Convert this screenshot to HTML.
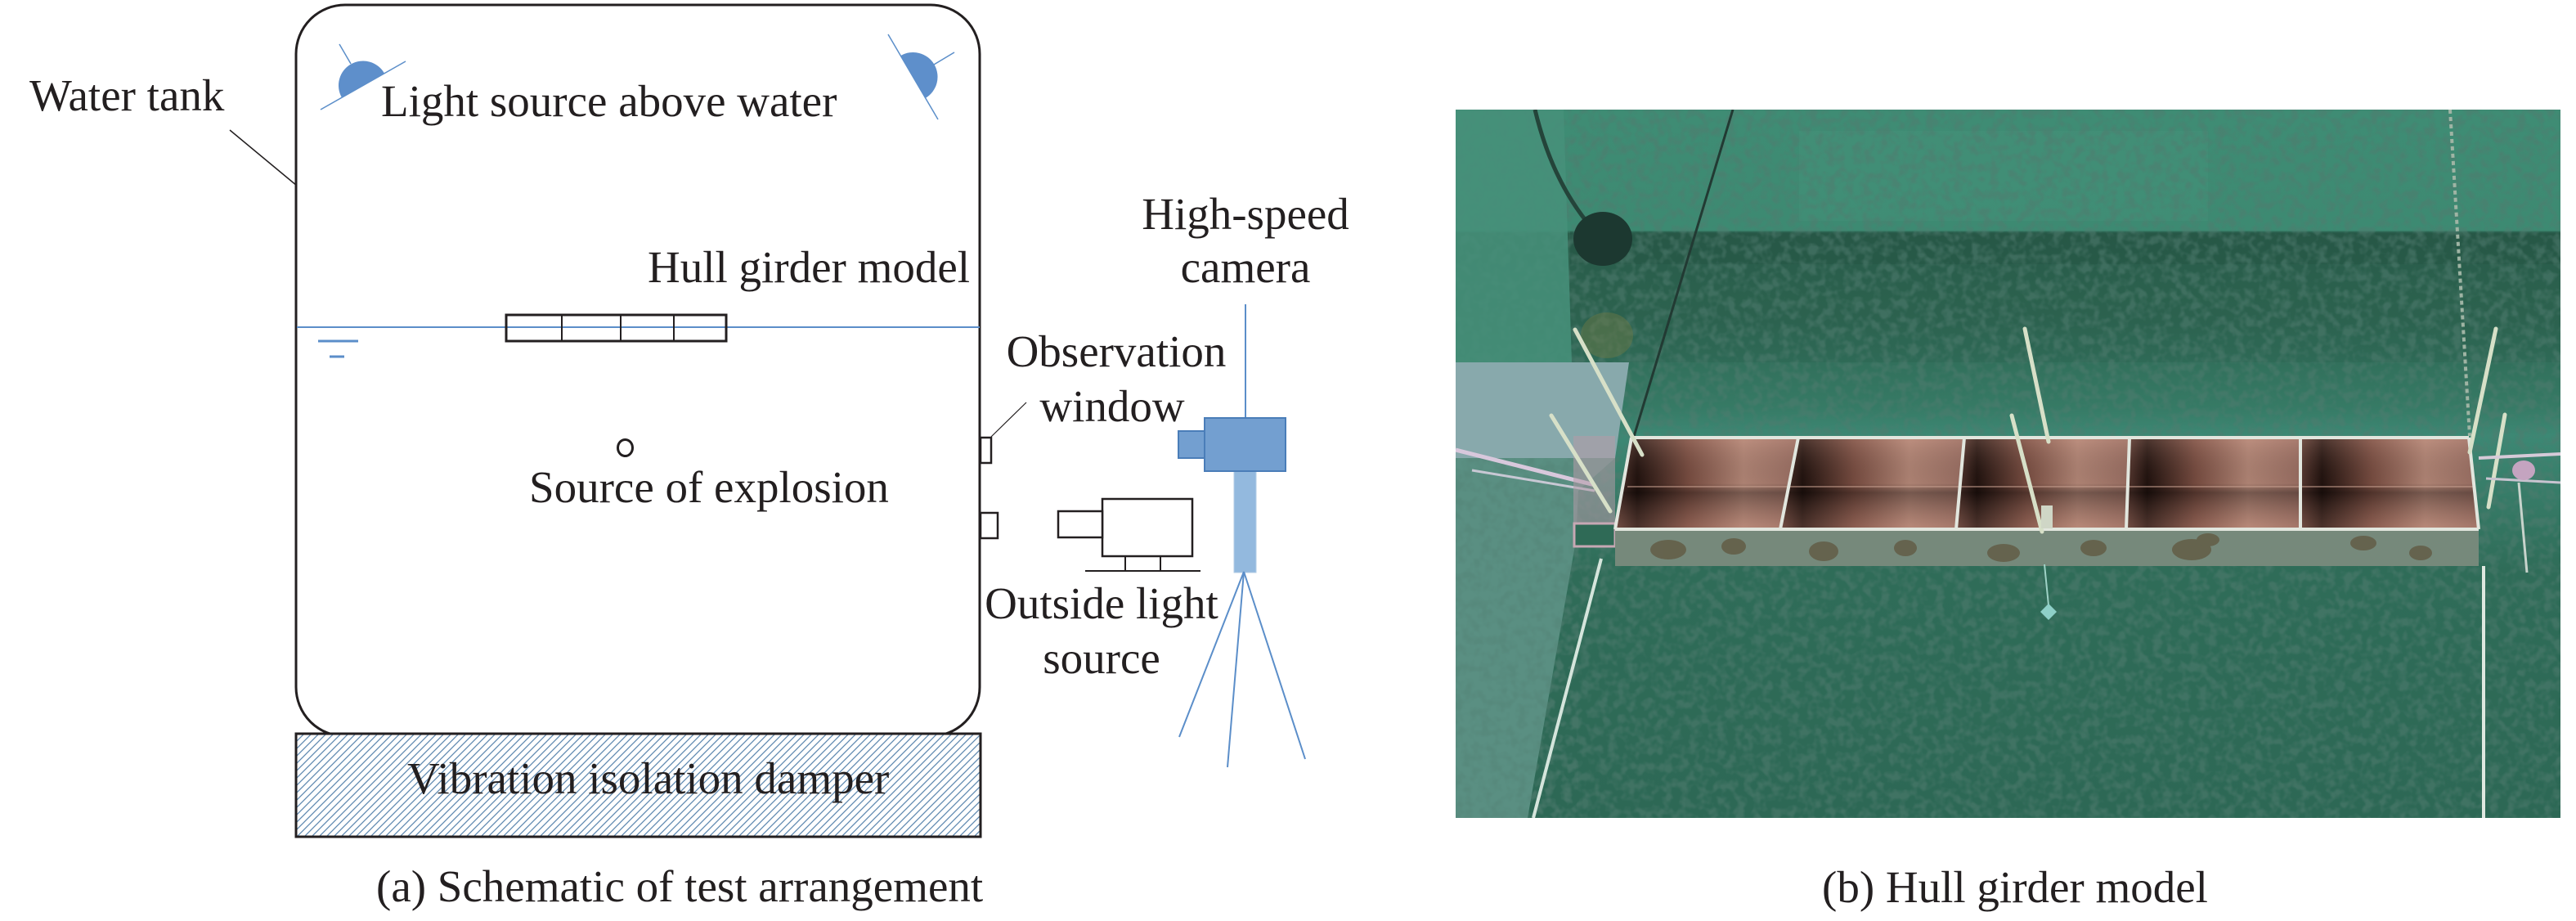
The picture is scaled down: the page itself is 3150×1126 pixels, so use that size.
<!DOCTYPE html>
<html>
<head>
<meta charset="utf-8">
<style>
  html,body{margin:0;padding:0;background:#fff;}
  svg{display:block;}
  text{font-family:"Liberation Serif","Times New Roman",serif;font-size:55px;fill:#231f20;}
</style>
</head>
<body>
<svg width="3150" height="1126" viewBox="0 0 3150 1126" xmlns="http://www.w3.org/2000/svg">
  <defs>
    <pattern id="hatch" patternUnits="userSpaceOnUse" width="9" height="9">
      <path d="M-1,1 l2,-2 M0,9 l9,-9 M8,10 l2,-2" stroke="#5f89b0" stroke-width="1.3"/>
    </pattern>
    <linearGradient id="comp" x1="0" y1="0" x2="1" y2="0">
      <stop offset="0" stop-color="#5a3a32"/>
      <stop offset="0.12" stop-color="#22130f"/>
      <stop offset="0.4" stop-color="#7a4e42"/>
      <stop offset="0.7" stop-color="#b58878"/>
      <stop offset="1" stop-color="#9c7064"/>
    </linearGradient>
    <linearGradient id="compV" x1="0" y1="0" x2="0" y2="1">
      <stop offset="0" stop-color="#d9a898" stop-opacity="0.25"/>
      <stop offset="0.5" stop-color="#000" stop-opacity="0.05"/>
      <stop offset="0.6" stop-color="#000" stop-opacity="0.35"/>
      <stop offset="1" stop-color="#c79080" stop-opacity="0.25"/>
    </linearGradient>
    <linearGradient id="floorG" x1="0" y1="134" x2="0" y2="1000" gradientUnits="userSpaceOnUse">
      <stop offset="0" stop-color="#3f8c74"/>
      <stop offset="0.17" stop-color="#3d8a72"/>
      <stop offset="0.175" stop-color="#2b5f4c"/>
      <stop offset="0.3" stop-color="#2e6753"/>
      <stop offset="0.42" stop-color="#367a65"/>
      <stop offset="0.46" stop-color="#3d8874"/>
      <stop offset="0.65" stop-color="#2f6c58"/>
      <stop offset="1" stop-color="#2d6855"/>
    </linearGradient>
    <filter id="speck" x="0" y="0" width="100%" height="100%">
      <feTurbulence type="fractalNoise" baseFrequency="0.09" numOctaves="2" seed="3" result="n"/>
      <feColorMatrix in="n" type="matrix" values="0 0 0 0 0.08  0 0 0 0 0.2  0 0 0 0 0.16  0 0 0 -3.2 1.9"/>
    </filter>
    <clipPath id="photoClip"><rect x="1780" y="134" width="1351" height="866"/></clipPath>
  </defs>

  <!-- ================= (a) Schematic ================= -->
  <!-- water tank -->
  <rect x="362" y="6" width="836" height="894" rx="60" ry="60" fill="#fff" stroke="#231f20" stroke-width="3"/>
  <!-- leader water tank -->
  <line x1="281" y1="159" x2="363" y2="227" stroke="#231f20" stroke-width="1.5"/>
  <text x="36" y="135">Water tank</text>

  <!-- lamps -->
  <line x1="392" y1="134" x2="496" y2="75" stroke="#5b8ec9" stroke-width="1.5"/>
  <path d="M417.9,119.3 A30,30 0 0 1 470.1,89.7 Z" fill="#5e8fcb"/>
  <line x1="429" y1="78" x2="415" y2="54" stroke="#5b8ec9" stroke-width="1.5"/>

  <line x1="1086" y1="42" x2="1147" y2="146" stroke="#5b8ec9" stroke-width="1.5"/>
  <path d="M1101.3,68.1 A30,30 0 0 1 1131.7,119.9 Z" fill="#5e8fcb"/>
  <line x1="1142" y1="79" x2="1167" y2="64" stroke="#5b8ec9" stroke-width="1.5"/>

  <text x="466" y="142">Light source above water</text>
  <text x="792" y="345">Hull girder model</text>

  <!-- water line -->
  <line x1="363" y1="400" x2="1198" y2="400" stroke="#5b8ec9" stroke-width="2"/>
  <line x1="389" y1="417" x2="438" y2="417" stroke="#5b8ec9" stroke-width="3"/>
  <line x1="403" y1="436" x2="421" y2="436" stroke="#5b8ec9" stroke-width="3"/>

  <!-- hull girder model -->
  <rect x="619" y="385" width="269" height="32" fill="none" stroke="#231f20" stroke-width="3"/>
  <line x1="687" y1="385" x2="687" y2="417" stroke="#231f20" stroke-width="2"/>
  <line x1="759" y1="385" x2="759" y2="417" stroke="#231f20" stroke-width="2"/>
  <line x1="824" y1="385" x2="824" y2="417" stroke="#231f20" stroke-width="2"/>

  <!-- explosion -->
  <ellipse cx="764.5" cy="547.5" rx="9" ry="10" fill="none" stroke="#231f20" stroke-width="3"/>
  <text x="647" y="614">Source of explosion</text>

  <!-- observation windows -->
  <rect x="1199" y="535" width="13" height="31" fill="#fff" stroke="#231f20" stroke-width="2.5"/>
  <rect x="1199" y="627" width="21" height="31" fill="#fff" stroke="#231f20" stroke-width="2.5"/>
  <line x1="1212" y1="534" x2="1255" y2="492" stroke="#231f20" stroke-width="1.2"/>
  <text x="1365" y="448" text-anchor="middle">Observation</text>
  <text x="1360" y="515" text-anchor="middle">window</text>

  <!-- high-speed camera -->
  <text x="1523" y="280" text-anchor="middle">High-speed</text>
  <text x="1523" y="345" text-anchor="middle">camera</text>
  <line x1="1523" y1="372" x2="1523" y2="511" stroke="#5b8ec9" stroke-width="2"/>
  <rect x="1509" y="575" width="27" height="125" fill="#93b9de" stroke="#b3cde6" stroke-width="1"/>
  <rect x="1473" y="511" width="99" height="65" fill="#739fd0" stroke="#4a7db8" stroke-width="2"/>
  <rect x="1441" y="527" width="32" height="33" fill="#739fd0" stroke="#4a7db8" stroke-width="2"/>
  <line x1="1521" y1="699" x2="1442" y2="901" stroke="#5b8ec9" stroke-width="2"/>
  <line x1="1521" y1="699" x2="1501" y2="938" stroke="#5b8ec9" stroke-width="2"/>
  <line x1="1521" y1="699" x2="1596" y2="928" stroke="#5b8ec9" stroke-width="2"/>

  <!-- outside light source -->
  <rect x="1348" y="610" width="110" height="70" fill="#fff" stroke="#231f20" stroke-width="2.5"/>
  <rect x="1294" y="625" width="54" height="32" fill="#fff" stroke="#231f20" stroke-width="2.5"/>
  <line x1="1376" y1="680" x2="1376" y2="698" stroke="#231f20" stroke-width="2"/>
  <line x1="1419" y1="680" x2="1419" y2="698" stroke="#231f20" stroke-width="2"/>
  <line x1="1327" y1="698" x2="1468" y2="698" stroke="#231f20" stroke-width="2"/>
  <text x="1347" y="756" text-anchor="middle">Outside light</text>
  <text x="1347" y="823" text-anchor="middle">source</text>

  <!-- damper -->
  <rect x="362" y="897" width="837" height="126" fill="#fff"/>
  <rect x="362" y="897" width="837" height="126" fill="url(#hatch)" stroke="#231f20" stroke-width="3"/>
  <text x="498" y="970">Vibration isolation damper</text>

  <text x="460" y="1102">(a) Schematic of test arrangement</text>

  <!-- ================= (b) Photo ================= -->
  <g clip-path="url(#photoClip)">
    <rect x="1780" y="134" width="1351" height="866" fill="url(#floorG)"/>
    <!-- lighter wall texture top -->
    <rect x="2200" y="160" width="500" height="110" fill="#4a9680" opacity="0.25"/>
    <!-- dark seam band -->
    <rect x="1920" y="283" width="1211" height="40" fill="#1f4a3c" opacity="0.35"/>
    <rect x="1920" y="323" width="1211" height="120" fill="#1f4a3c" opacity="0.15"/>
    <!-- speckle -->
    <rect x="1780" y="134" width="1351" height="866" filter="url(#speck)" opacity="0.55"/>
    <!-- left wall top -->
    <polygon points="1780,134 1912,134 1922,443 1780,443" fill="#46907a" opacity="0.85"/>
    <!-- cable + drain -->
    <path d="M1877,134 Q1900,230 1955,288" stroke="#24443a" stroke-width="5" fill="none"/>
    <ellipse cx="1960" cy="292" rx="36" ry="33" fill="#1c3830"/>
    <ellipse cx="1965" cy="410" rx="32" ry="28" fill="#6f7a45" opacity="0.45"/>
    <!-- plate -->
    <polygon points="1780,443 1992,443 1975,560 1780,560" fill="#88a9ac"/>
    <!-- left lower wall -->
    <polygon points="1780,560 1975,560 1930,600 1927,661 1868,1000 1780,1000" fill="#5a8f82"/>
    <rect x="1780" y="560" width="150" height="440" filter="url(#speck)" opacity="0.3"/>
    <!-- dark rope -->
    <line x1="2119" y1="134" x2="1990" y2="560" stroke="#223a33" stroke-width="3"/>
    <!-- white rope bottom-left -->
    <line x1="1958" y1="683" x2="1875" y2="1000" stroke="#d5e5dc" stroke-width="4"/>
    <!-- left ropes -->
    <line x1="1780" y1="550" x2="1950" y2="593" stroke="#d8c8dc" stroke-width="5"/>
    <line x1="1800" y1="575" x2="1950" y2="600" stroke="#c8c8d4" stroke-width="3"/>
    <!-- pink bracket left -->
    <polygon points="1924,533 1975,533 1975,667 1924,667" fill="#b59aa8" opacity="0.55"/>
    <rect x="1925" y="640" width="50" height="28" fill="#2f6a56" stroke="#c7a8b4" stroke-width="3"/>

    <!-- box compartments -->
    <polygon points="1995,535 2199,535 2177,647 1975,647" fill="url(#comp)"/>
    <polygon points="2199,535 2402,535 2392,647 2177,647" fill="url(#comp)"/>
    <polygon points="2402,535 2604,535 2600,647 2392,647" fill="url(#comp)"/>
    <polygon points="2604,535 2813,535 2813,647 2600,647" fill="url(#comp)"/>
    <polygon points="2813,535 3019,535 3031,647 2813,647" fill="url(#comp)"/>
    <polygon points="1995,535 3019,535 3031,647 1975,647" fill="url(#compV)"/>
    <line x1="1990" y1="595" x2="3025" y2="595" stroke="#c8a090" stroke-width="1.5" opacity="0.7"/>
    <!-- rims -->
    <g stroke="#e2e6de" stroke-width="4" fill="none">
      <line x1="1995" y1="535" x2="3019" y2="535"/>
      <line x1="1975" y1="647" x2="3031" y2="647"/>
      <line x1="1995" y1="535" x2="1975" y2="647"/>
      <line x1="3019" y1="535" x2="3031" y2="647"/>
      <line x1="2199" y1="535" x2="2177" y2="647"/>
      <line x1="2402" y1="535" x2="2392" y2="647"/>
      <line x1="2604" y1="535" x2="2600" y2="647"/>
      <line x1="2813" y1="535" x2="2813" y2="647"/>
    </g>
    <!-- front face -->
    <rect x="1975" y="649" width="1056" height="43" fill="#76897b"/>
    <g fill="#5a4a30" opacity="0.6">
      <ellipse cx="2040" cy="672" rx="22" ry="12"/>
      <ellipse cx="2120" cy="668" rx="15" ry="10"/>
      <ellipse cx="2230" cy="674" rx="18" ry="12"/>
      <ellipse cx="2330" cy="670" rx="14" ry="10"/>
      <ellipse cx="2450" cy="676" rx="20" ry="11"/>
      <ellipse cx="2560" cy="670" rx="16" ry="10"/>
      <ellipse cx="2680" cy="672" rx="24" ry="13"/>
      <ellipse cx="2700" cy="660" rx="14" ry="8"/>
      <ellipse cx="2890" cy="664" rx="16" ry="9"/>
      <ellipse cx="2960" cy="676" rx="14" ry="9"/>
    </g>
    <!-- rods -->
    <g stroke="#d7e0c8" stroke-width="5" stroke-linecap="round">
      <line x1="1926" y1="403" x2="2008" y2="556"/>
      <line x1="1897" y1="508" x2="1969" y2="625"/>
      <line x1="2476" y1="402" x2="2505" y2="540"/>
      <line x1="2460" y1="508" x2="2497" y2="650"/>
      <line x1="3052" y1="402" x2="3020" y2="553"/>
      <line x1="3063" y1="507" x2="3043" y2="620"/>
    </g>
    <rect x="2496" y="618" width="14" height="28" fill="#cfd6c6"/>
    <!-- right chain & rope -->
    <line x1="2996" y1="134" x2="3020" y2="533" stroke="#9fb4a4" stroke-width="4" stroke-dasharray="5 4"/>
    <line x1="3037" y1="692" x2="3037" y2="1000" stroke="#dfe8e0" stroke-width="4"/>
    <!-- right clutter -->
    <line x1="3031" y1="560" x2="3131" y2="555" stroke="#d6cad8" stroke-width="4"/>
    <line x1="3040" y1="585" x2="3131" y2="590" stroke="#c8c4d0" stroke-width="3"/>
    <ellipse cx="3086" cy="575" rx="14" ry="12" fill="#c4a4c0"/>
    <line x1="3080" y1="590" x2="3090" y2="700" stroke="#c8d4cc" stroke-width="3"/>
    <!-- diamond marker -->
    <line x1="2500" y1="690" x2="2505" y2="740" stroke="#9fd2c6" stroke-width="2"/>
    <polygon points="2505,738 2515,748 2505,758 2495,748" fill="#8fd0c8"/>
  </g>

  <text x="2228" y="1103">(b) Hull girder model</text>
</svg>
</body>
</html>
